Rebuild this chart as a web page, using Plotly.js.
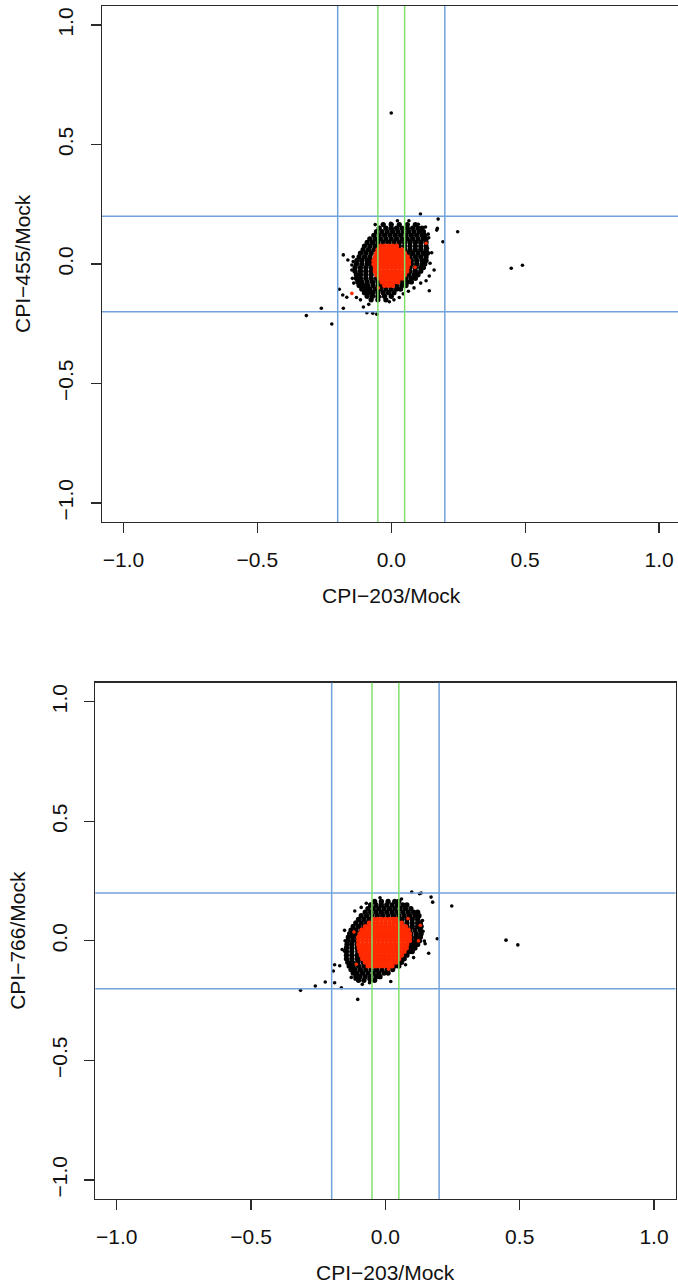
<!DOCTYPE html>
<html><head><meta charset="utf-8">
<script src="https://cdn.plot.ly/plotly-3.0.1.min.js"></script>
<style>html,body{margin:0;padding:0;overflow:hidden;background:#fff;width:678px;height:1285px}#chart{width:684px;height:1285px}</style>
</head><body><div id="chart"></div><script>
// ---------- data ----------
const tickVals = [-1, -0.5, 0, 0.5, 1];
const tickText = ['\u22121.0', '\u22120.5', '0.0', '0.5', '1.0'];
const xTitle = 'CPI\u2212203/Mock';
const yTitles = ['CPI\u2212455/Mock', 'CPI\u2212766/Mock'];
const blueCut = [-0.2, 0.2];
const greenCut = [-0.05, 0.05];

// Panel 1 (CPI-455 vs CPI-203): dense cluster rows [y, [x...]]
const p1BlackRows = [
 [0.165,[-0.03,0,0.03,0.06,0.09]],
 [0.15,[-0.045,-0.02,0,0.02,0.04,0.06,0.08,0.10,0.115]],
 [0.135,[-0.055,-0.035,-0.015,0.005,0.025,0.045,0.065,0.085,0.105,0.12]],
 [0.12,[-0.065,-0.045,-0.025,-0.005,0.015,0.035,0.055,0.075,0.095,0.115,0.125]],
 [0.105,[-0.08,-0.06,-0.04,-0.02,0,0.02,0.04,0.06,0.08,0.10,0.12,0.13]],
 [0.09,[-0.09,-0.07,-0.05,-0.03,-0.01,0.01,0.03,0.05,0.07,0.09,0.11,0.13]],
 [0.075,[-0.10,-0.08,-0.06,-0.045,0.03,0.05,0.07,0.09,0.11,0.13]],
 [0.06,[-0.105,-0.085,-0.065,0.05,0.07,0.09,0.11,0.13]],
 [0.045,[-0.115,-0.095,-0.075,0.06,0.08,0.10,0.12,0.135]],
 [0.03,[-0.12,-0.10,-0.08,0.07,0.09,0.11,0.13]],
 [0.015,[-0.128,-0.11,-0.09,-0.075,0.075,0.095,0.115,0.13]],
 [0.0,[-0.13,-0.11,-0.09,-0.075,0.075,0.095,0.115,0.125]],
 [-0.015,[-0.135,-0.115,-0.095,-0.075,0.07,0.09,0.11,0.12]],
 [-0.03,[-0.135,-0.115,-0.095,-0.075,0.07,0.09,0.11]],
 [-0.045,[-0.13,-0.115,-0.095,-0.075,0.065,0.085,0.10]],
 [-0.06,[-0.13,-0.115,-0.095,-0.075,-0.055,0.055,0.075,0.09]],
 [-0.075,[-0.125,-0.11,-0.09,-0.07,-0.05,0.04,0.06,0.075]],
 [-0.09,[-0.12,-0.105,-0.088,-0.068,-0.048,-0.03,0.02,0.04,0.055]],
 [-0.105,[-0.11,-0.095,-0.08,-0.06,-0.04,-0.02,0,0.02,0.035]],
 [-0.12,[-0.10,-0.085,-0.07,-0.05,-0.03,-0.01,0.01]],
 [-0.135,[-0.09,-0.07,-0.05,-0.025,0]],
 [-0.15,[-0.075,-0.05,-0.02]]
];
const p1RedRows = [
 [0.075,[-0.04,-0.025,-0.01,0.005,0.02]],
 [0.06,[-0.05,-0.035,-0.02,-0.005,0.01,0.025,0.04]],
 [0.045,[-0.055,-0.04,-0.025,-0.01,0.005,0.02,0.035,0.05]],
 [0.03,[-0.06,-0.045,-0.03,-0.015,0,0.015,0.03,0.045,0.06]],
 [0.015,[-0.065,-0.05,-0.035,-0.02,-0.005,0.01,0.025,0.04,0.055,0.065]],
 [0.0,[-0.065,-0.05,-0.035,-0.02,-0.005,0.01,0.025,0.04,0.055,0.065]],
 [-0.015,[-0.06,-0.045,-0.03,-0.015,0,0.015,0.03,0.045,0.06]],
 [-0.03,[-0.06,-0.045,-0.03,-0.015,0,0.015,0.03,0.045,0.058]],
 [-0.045,[-0.055,-0.04,-0.025,-0.01,0.005,0.02,0.035,0.05]],
 [-0.06,[-0.045,-0.03,-0.015,0,0.015,0.03,0.042]],
 [-0.075,[-0.035,-0.02,-0.005,0.01,0.025]],
 [-0.09,[-0.025,-0.01,0.005]]
];
const p1RedStrayX = [-0.147, 0.13, 0.089, -0.048];
const p1RedStrayY = [-0.123, 0.087, -0.014, -0.10];
const p1OutX = [0.0,0.448,0.49,0.248,0.193,0.109,0.175,0.17,0.142,0.16,0.145,0.151,-0.317,-0.222,-0.261,-0.179,-0.194,-0.104,-0.084,-0.091,-0.069,-0.054,-0.179,-0.162,-0.147,-0.147,-0.181,-0.166,-0.002,0.023,0.066,0.101,0.135,0.172,0.064,-0.007,0.01,-0.042,-0.145,-0.14,-0.142,0.14,0.142,0.13,0.03,0.045,-0.115,-0.13,0.138,0.128,-0.06,0.085,-0.142,0.11];
const p1OutY = [0.632,-0.018,-0.005,0.135,0.093,0.209,0.188,0.142,-0.112,-0.025,0.003,0.047,-0.216,-0.251,-0.185,-0.185,-0.106,-0.18,-0.169,-0.204,-0.206,-0.21,0.038,0.017,-0.004,-0.025,-0.13,-0.139,0.17,0.181,0.181,0.166,0.066,0.149,-0.114,-0.158,-0.15,-0.137,-0.06,-0.08,0.03,0.11,-0.05,-0.07,-0.14,-0.125,-0.15,-0.14,0.125,0.155,0.165,-0.1,0.01,-0.08];

// Panel 2 (CPI-766 vs CPI-203)
const p2BlackRows = [
 [0.165,[-0.04,-0.015,0.01,0.035,0.05]],
 [0.15,[-0.055,-0.035,-0.015,0.005,0.025,0.045,0.065,0.08]],
 [0.135,[-0.065,-0.045,-0.025,-0.005,0.015,0.035,0.055,0.075,0.095]],
 [0.12,[-0.075,-0.055,-0.035,-0.015,0.005,0.025,0.045,0.065,0.085,0.105,0.12]],
 [0.105,[-0.09,-0.07,-0.05,-0.03,-0.01,0.01,0.03,0.05,0.07,0.09,0.11,0.125]],
 [0.09,[-0.10,-0.08,-0.06,-0.045,0.04,0.06,0.08,0.10,0.12]],
 [0.075,[-0.11,-0.09,-0.07,0.06,0.08,0.10,0.12,0.13]],
 [0.06,[-0.12,-0.10,-0.08,0.08,0.10,0.12,0.133]],
 [0.045,[-0.128,-0.11,-0.09,0.09,0.11,0.13]],
 [0.03,[-0.133,-0.115,-0.098,0.095,0.115,0.133]],
 [0.015,[-0.138,-0.12,-0.103,0.095,0.113,0.13]],
 [0.0,[-0.14,-0.122,-0.104,0.095,0.112,0.127]],
 [-0.015,[-0.143,-0.125,-0.105,0.09,0.105,0.12]],
 [-0.03,[-0.145,-0.125,-0.105,0.083,0.098,0.11]],
 [-0.045,[-0.145,-0.125,-0.103,0.075,0.09,0.10]],
 [-0.06,[-0.145,-0.125,-0.105,-0.095,0.065,0.08]],
 [-0.075,[-0.145,-0.125,-0.105,-0.09,0.055,0.07]],
 [-0.09,[-0.14,-0.123,-0.103,-0.083,0.045,0.06]],
 [-0.105,[-0.135,-0.12,-0.10,-0.08,-0.07,0.035,0.05]],
 [-0.12,[-0.128,-0.113,-0.093,-0.073,-0.053,-0.033,-0.013,0.007,0.027]],
 [-0.135,[-0.12,-0.105,-0.085,-0.065,-0.045,-0.025,-0.005,0.01]],
 [-0.15,[-0.11,-0.095,-0.075,-0.055,-0.035,-0.02]],
 [-0.165,[-0.1,-0.08,-0.055,-0.04]]
];
const p2RedRows = [
 [0.09,[-0.045,-0.03,-0.015,0,0.015,0.03,0.04]],
 [0.075,[-0.06,-0.045,-0.03,-0.015,0,0.015,0.03,0.045,0.06]],
 [0.06,[-0.075,-0.06,-0.045,-0.03,-0.015,0,0.015,0.03,0.045,0.06,0.075]],
 [0.045,[-0.088,-0.073,-0.058,-0.043,-0.028,-0.013,0.002,0.017,0.032,0.047,0.062,0.077,0.085]],
 [0.03,[-0.095,-0.08,-0.065,-0.05,-0.035,-0.02,-0.005,0.01,0.025,0.04,0.055,0.07,0.085,0.09]],
 [0.015,[-0.10,-0.085,-0.07,-0.055,-0.04,-0.025,-0.01,0.005,0.02,0.035,0.05,0.065,0.08,0.09]],
 [0.0,[-0.10,-0.085,-0.07,-0.055,-0.04,-0.025,-0.01,0.005,0.02,0.035,0.05,0.065,0.08,0.09]],
 [-0.015,[-0.10,-0.085,-0.07,-0.055,-0.04,-0.025,-0.01,0.005,0.02,0.035,0.05,0.065,0.08]],
 [-0.03,[-0.098,-0.083,-0.068,-0.053,-0.038,-0.023,-0.008,0.007,0.022,0.037,0.052,0.067,0.078]],
 [-0.045,[-0.095,-0.08,-0.065,-0.05,-0.035,-0.02,-0.005,0.01,0.025,0.04,0.055,0.07]],
 [-0.06,[-0.09,-0.075,-0.06,-0.045,-0.03,-0.015,0,0.015,0.03,0.045,0.06]],
 [-0.075,[-0.085,-0.07,-0.055,-0.04,-0.025,-0.01,0.005,0.02,0.035,0.05]],
 [-0.09,[-0.075,-0.06,-0.045,-0.03,-0.015,0,0.015,0.03,0.04]],
 [-0.105,[-0.065,-0.05,-0.035,-0.02,-0.005,0.01,0.025]]
];
const p2RedStrayX = [-0.117, 0.13, 0.123, 0.084, 0.012, -0.108];
const p2RedStrayY = [0.037, 0.065, 0.0, 0.093, -0.119, -0.098];
const p2OutX = [0.098,0.127,0.133,0.17,0.176,0.247,0.193,0.145,0.148,0.161,0.075,0.449,0.493,-0.316,-0.261,-0.224,-0.189,-0.164,-0.194,-0.189,-0.17,-0.152,-0.161,-0.152,-0.114,-0.071,-0.086,-0.059,-0.061,-0.113,-0.127,-0.103,-0.09,0.06,0.14,0.138,-0.15,0.105,-0.02,0.02];
const p2OutY = [0.204,0.197,0.2,0.183,0.162,0.146,0.009,-0.001,-0.012,-0.052,-0.1,0.003,-0.017,-0.207,-0.189,-0.172,-0.175,-0.196,-0.126,-0.1,-0.104,-0.043,-0.036,0.044,0.125,0.157,-0.182,-0.175,-0.161,-0.16,-0.153,-0.245,0.14,0.175,0.04,0.085,0.0,-0.07,0.18,-0.17];

// ---------- build ----------
function unpack(rows){const x=[],y=[];rows.forEach(r=>r[1].forEach(v=>{x.push(v);y.push(r[0]);}));return {x,y};}
function pts(x,y,xa,ya,color,size){return {type:'scatter',mode:'markers',x,y,xaxis:xa,yaxis:ya,marker:{color,size,line:{width:0}},hoverinfo:'skip',showlegend:false};}
const BLACK='#000000', RED='#ff2a00';
const b1=unpack(p1BlackRows), r1=unpack(p1RedRows), b2=unpack(p2BlackRows), r2=unpack(p2RedRows);
const data=[
 pts(b1.x,b1.y,'x','y',BLACK,5.3), pts(p1OutX,p1OutY,'x','y',BLACK,3.6),
 pts(r1.x,r1.y,'x','y',RED,5), pts(p1RedStrayX,p1RedStrayY,'x','y',RED,3.6),
 pts(b2.x,b2.y,'x2','y2',BLACK,5.3), pts(p2OutX,p2OutY,'x2','y2',BLACK,3.6),
 pts(r2.x,r2.y,'x2','y2',RED,5), pts(p2RedStrayX,p2RedStrayY,'x2','y2',RED,3.6)
];
const W=684,H=1285;
const FONT='"Liberation Sans", Arial, Helvetica, sans-serif';
const TFONT={family:FONT,size:21,color:'#111'};
function axis(extra){return Object.assign({range:[-1.08,1.08],showline:true,mirror:true,linecolor:'#2a2a2a',linewidth:1.3,
 ticks:'outside',ticklen:10,tickwidth:1.3,tickcolor:'#2a2a2a',showgrid:false,zeroline:false,fixedrange:true,
 tickvals:tickVals,ticktext:tickText,tickfont:TFONT,automargin:false},extra);}
const layout={
 width:W,height:H,margin:{l:0,r:0,t:0,b:0},paper_bgcolor:'#fff',plot_bgcolor:'#fff',
 font:TFONT,showlegend:false,hovermode:false,
 xaxis:axis({domain:[102/W,680.5/W],anchor:'y',ticklabelstandoff:8}),
 yaxis:axis({domain:[1-522/H,1-6/H],anchor:'x',tickangle:-90,ticklabelstandoff:9}),
 xaxis2:axis({domain:[95.3/W,675.5/W],anchor:'y2',ticklabelstandoff:8}),
 yaxis2:axis({domain:[1-1199/H,1-682.7/H],anchor:'x2',tickangle:-90,ticklabelstandoff:9}),
 shapes:[],
 annotations:[
  {text:xTitle,xref:'x domain',yref:'paper',x:0.5,y:1-595/H,xanchor:'center',yanchor:'middle',showarrow:false,font:TFONT},
  {text:yTitles[0],xref:'paper',yref:'y domain',x:22/W,y:0.5,xanchor:'center',yanchor:'middle',textangle:-90,showarrow:false,font:TFONT},
  {text:xTitle,xref:'x2 domain',yref:'paper',x:0.5,y:1-1272/H,xanchor:'center',yanchor:'middle',showarrow:false,font:TFONT},
  {text:yTitles[1],xref:'paper',yref:'y2 domain',x:18/W,y:0.5,xanchor:'center',yanchor:'middle',textangle:-90,showarrow:false,font:TFONT}
 ]
};
const BLUE='#72a2da', GREEN='#7fe06c';
[['x','y'],['x2','y2']].forEach(([xa,ya])=>{
 blueCut.forEach(v=>{
  layout.shapes.push({type:'line',xref:xa,yref:ya+' domain',x0:v,x1:v,y0:0,y1:1,line:{color:BLUE,width:1.5},layer:'above'});
  layout.shapes.push({type:'line',xref:xa+' domain',yref:ya,x0:0,x1:1,y0:v,y1:v,line:{color:BLUE,width:1.5},layer:'above'});
 });
 greenCut.forEach(v=>{
  layout.shapes.push({type:'line',xref:xa,yref:ya+' domain',x0:v,x1:v,y0:0,y1:1,line:{color:GREEN,width:1.5},layer:'above'});
 });
});
Plotly.newPlot('chart',data,layout,{displayModeBar:false,staticPlot:true});
</script></body></html>
